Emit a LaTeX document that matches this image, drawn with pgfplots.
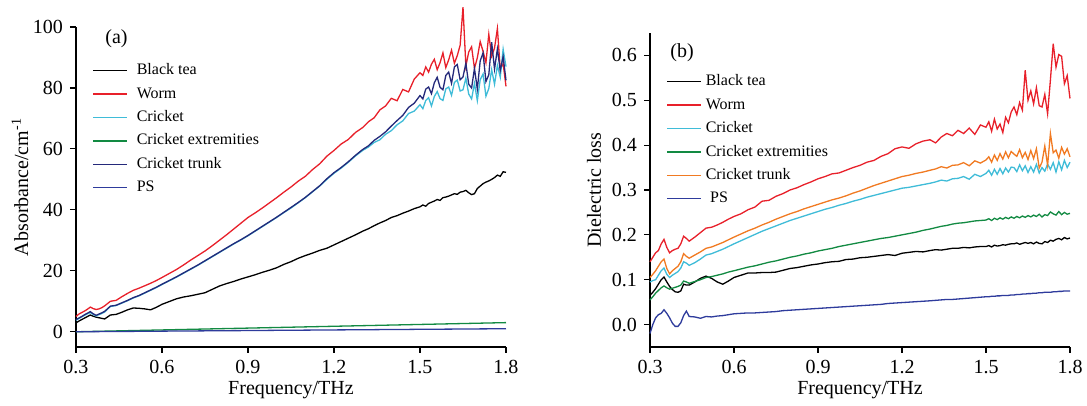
\documentclass[border=0pt]{standalone}
\usepackage{pgfplots}
\pgfplotsset{compat=1.18}
\usepackage{pgfplotstable}
\usepackage{fontspec}
\setmainfont{Liberation Serif}

\definecolor{cTea}{HTML}{000000}
\definecolor{cWorm}{HTML}{E8202A}
\definecolor{cCricket}{HTML}{3FBCD8}
\definecolor{cExt}{HTML}{128A42}
\definecolor{cTrunkA}{HTML}{24297A}
\definecolor{cTrunkB}{HTML}{F17A22}
\definecolor{cPS}{HTML}{2E3B9C}

% Panel (a): absorbance
\pgfplotstableread{
x tea worm cricket ext trunk ps
0.30 2.9 5.0 3.8 0.00 4.0 0.00
0.31 3.5 5.8 4.3 0.02 4.5 0.01
0.32 4.0 6.3 4.9 0.04 5.0 0.01
0.33 4.5 6.8 5.4 0.06 5.6 0.02
0.34 5.0 7.4 5.9 0.08 6.1 0.03
0.35 5.5 8.1 6.3 0.10 6.6 0.03
0.36 5.1 7.6 5.7 0.12 5.9 0.04
0.37 4.8 7.3 5.2 0.14 5.4 0.05
0.38 4.6 7.5 5.6 0.16 5.8 0.05
0.39 4.4 7.9 6.0 0.18 6.2 0.06
0.40 4.2 8.5 6.5 0.20 6.7 0.07
0.42 5.5 10.0 8.3 0.24 8.4 0.08
0.44 5.7 10.3 8.6 0.28 8.7 0.09
0.46 6.4 11.5 9.4 0.32 9.5 0.11
0.48 7.2 12.6 10.2 0.36 10.3 0.12
0.50 7.8 13.6 11.1 0.40 11.2 0.13
0.52 7.7 14.3 11.8 0.44 11.9 0.15
0.54 7.5 15.1 12.7 0.48 12.8 0.16
0.56 7.2 15.9 13.6 0.52 13.7 0.17
0.58 8.0 16.8 14.5 0.56 14.6 0.19
0.60 9.0 17.8 15.5 0.60 15.6 0.20
0.625 9.9 19.1 16.7 0.65 16.8 0.22
0.65 10.8 20.4 17.9 0.70 18.0 0.23
0.675 11.4 21.9 19.2 0.75 19.3 0.25
0.70 11.8 23.5 20.5 0.80 20.6 0.27
0.725 12.3 25.0 21.8 0.85 21.9 0.28
0.75 12.8 26.5 23.2 0.90 23.3 0.30
0.775 13.9 28.2 24.6 0.95 24.7 0.32
0.80 15.0 30.0 26.0 1.00 26.1 0.33
0.825 15.8 31.8 27.4 1.05 27.5 0.35
0.85 16.5 33.7 28.8 1.10 28.9 0.37
0.875 17.3 35.6 30.1 1.15 30.2 0.38
0.90 18.0 37.5 31.5 1.20 31.6 0.40
0.925 18.7 39.0 33.0 1.25 33.1 0.42
0.95 19.5 40.6 34.5 1.30 34.6 0.43
0.975 20.2 42.3 36.0 1.35 36.1 0.45
1.00 21.0 44.0 37.5 1.40 37.6 0.47
1.025 22.1 45.8 39.1 1.45 39.2 0.48
1.05 23.0 47.5 40.6 1.50 40.8 0.50
1.075 24.1 49.4 42.3 1.55 42.4 0.52
1.10 25.0 51.0 44.0 1.60 44.1 0.53
1.125 25.8 53.2 45.9 1.65 46.0 0.55
1.15 26.7 55.1 47.8 1.70 47.9 0.57
1.175 27.4 57.6 50.0 1.75 50.2 0.58
1.20 28.5 59.5 52.0 1.80 52.2 0.60
1.225 29.6 61.6 53.7 1.85 53.9 0.62
1.25 30.7 63.1 55.6 1.90 55.8 0.63
1.275 31.8 65.4 57.7 1.95 57.9 0.65
1.30 33.0 67.0 59.5 2.00 59.8 0.67
1.32 33.8 68.9 60.6 2.04 61.0 0.68
1.34 34.8 70.2 62.1 2.08 62.8 0.69
1.36 35.7 72.8 63.0 2.12 64.1 0.71
1.38 36.5 74.1 64.8 2.16 65.6 0.72
1.40 37.5 76.6 66.0 2.20 67.5 0.73
1.42 38.1 75.8 67.9 2.24 69.3 0.75
1.44 38.9 79.5 69.2 2.28 71.0 0.76
1.46 39.6 78.7 71.6 2.32 73.6 0.77
1.48 40.4 82.9 72.4 2.36 75.0 0.79
1.50 41.0 85.0 74.5 2.40 77.5 0.80
1.51 41.6 84.1 73.2 2.42 76.4 0.81
1.52 41.2 86.9 75.9 2.44 79.6 0.81
1.53 42.1 85.2 76.8 2.46 80.3 0.82
1.54 42.5 87.8 74.1 2.48 78.1 0.83
1.55 42.9 89.4 77.2 2.50 81.7 0.83
1.56 43.4 86.0 78.8 2.52 83.5 0.84
1.57 43.1 88.3 76.5 2.54 80.2 0.85
1.58 44.0 91.5 75.9 2.56 79.4 0.85
1.59 44.2 86.7 79.7 2.58 84.1 0.86
1.60 44.5 89.2 80.3 2.60 85.2 0.87
1.61 44.9 92.4 77.6 2.62 81.5 0.87
1.62 45.3 88.1 81.8 2.64 86.9 0.88
1.63 45.1 90.6 82.6 2.66 87.7 0.89
1.64 45.8 94.0 79.0 2.68 82.7 0.89
1.65 46.0 106.5 79.4 2.70 83.6 0.90
1.66 46.4 87.2 83.2 2.72 88.1 0.91
1.67 45.6 91.8 78.0 2.74 81.2 0.91
1.68 45.0 93.5 76.4 2.76 80.0 0.92
1.69 45.3 86.4 81.5 2.78 86.4 0.93
1.70 47.0 89.9 75.8 2.80 79.6 0.93
1.71 47.8 95.2 82.7 2.82 88.9 0.94
1.72 48.6 92.0 84.6 2.84 91.5 0.95
1.73 49.1 88.3 77.3 2.86 82.1 0.95
1.74 49.5 97.6 79.8 2.88 84.3 0.96
1.75 50.0 90.4 86.0 2.90 95.0 0.97
1.76 50.6 93.1 81.2 2.92 86.2 0.97
1.77 51.4 99.5 87.4 2.94 92.8 0.98
1.78 51.0 86.2 83.5 2.96 85.7 0.99
1.79 52.5 88.0 92.7 2.98 90.3 0.99
1.80 52.3 80.5 87.0 3.00 82.5 1.00
}\absorb

% Panel (b): dielectric loss
\pgfplotstableread{
x tea worm cricket ext trunk ps
0.30 0.065 0.140 0.095 0.055 0.105 -0.020
0.31 0.072 0.150 0.098 0.062 0.112 0.000
0.32 0.080 0.160 0.100 0.070 0.120 0.015
0.33 0.090 0.165 0.110 0.076 0.130 0.022
0.34 0.100 0.180 0.120 0.082 0.140 0.025
0.35 0.106 0.190 0.126 0.086 0.146 0.033
0.36 0.095 0.172 0.112 0.082 0.125 0.025
0.37 0.085 0.160 0.105 0.079 0.113 0.015
0.38 0.078 0.165 0.110 0.081 0.120 0.003
0.39 0.073 0.168 0.114 0.083 0.125 -0.004
0.40 0.072 0.170 0.118 0.085 0.130 -0.004
0.41 0.075 0.180 0.126 0.088 0.140 0.004
0.42 0.090 0.197 0.140 0.097 0.158 0.020
0.43 0.088 0.192 0.137 0.095 0.152 0.030
0.44 0.088 0.186 0.132 0.092 0.148 0.018
0.46 0.095 0.195 0.138 0.096 0.155 0.017
0.48 0.103 0.205 0.146 0.100 0.162 0.014
0.50 0.108 0.215 0.155 0.105 0.170 0.018
0.52 0.103 0.217 0.158 0.107 0.173 0.017
0.54 0.095 0.222 0.163 0.110 0.178 0.019
0.56 0.090 0.228 0.168 0.113 0.183 0.020
0.58 0.097 0.235 0.174 0.117 0.189 0.022
0.60 0.105 0.241 0.180 0.120 0.195 0.024
0.625 0.110 0.247 0.187 0.124 0.202 0.025
0.65 0.115 0.256 0.194 0.128 0.209 0.026
0.675 0.115 0.262 0.201 0.131 0.215 0.026
0.70 0.116 0.275 0.208 0.135 0.222 0.027
0.725 0.116 0.277 0.214 0.139 0.228 0.028
0.75 0.117 0.286 0.220 0.142 0.235 0.029
0.775 0.121 0.292 0.226 0.146 0.241 0.031
0.80 0.125 0.300 0.232 0.150 0.247 0.032
0.825 0.127 0.305 0.237 0.153 0.252 0.033
0.85 0.130 0.312 0.242 0.157 0.258 0.034
0.875 0.133 0.318 0.247 0.160 0.263 0.035
0.90 0.135 0.325 0.252 0.164 0.268 0.036
0.925 0.138 0.330 0.257 0.167 0.273 0.037
0.95 0.140 0.336 0.261 0.170 0.278 0.038
0.975 0.141 0.338 0.266 0.174 0.282 0.039
1.00 0.145 0.344 0.270 0.177 0.287 0.040
1.025 0.146 0.350 0.275 0.180 0.293 0.041
1.05 0.149 0.355 0.279 0.183 0.298 0.042
1.075 0.150 0.362 0.284 0.186 0.304 0.043
1.10 0.152 0.366 0.288 0.189 0.310 0.044
1.125 0.154 0.375 0.292 0.192 0.315 0.045
1.15 0.156 0.381 0.296 0.194 0.320 0.047
1.175 0.154 0.392 0.300 0.197 0.325 0.048
1.20 0.159 0.396 0.304 0.200 0.330 0.049
1.225 0.161 0.393 0.306 0.203 0.333 0.050
1.25 0.163 0.403 0.309 0.206 0.337 0.051
1.275 0.162 0.409 0.312 0.210 0.340 0.052
1.30 0.165 0.412 0.315 0.213 0.344 0.053
1.32 0.167 0.405 0.318 0.216 0.347 0.054
1.34 0.166 0.418 0.322 0.219 0.352 0.055
1.36 0.168 0.426 0.320 0.221 0.349 0.056
1.38 0.170 0.421 0.325 0.224 0.355 0.056
1.40 0.170 0.433 0.326 0.226 0.356 0.057
1.42 0.172 0.426 0.330 0.227 0.361 0.058
1.44 0.171 0.438 0.324 0.229 0.354 0.059
1.46 0.173 0.424 0.335 0.231 0.365 0.060
1.48 0.174 0.445 0.330 0.232 0.360 0.061
1.50 0.174 0.440 0.337 0.233 0.367 0.062
1.51 0.176 0.452 0.344 0.236 0.374 0.062
1.52 0.173 0.431 0.333 0.232 0.362 0.063
1.53 0.177 0.458 0.346 0.237 0.378 0.063
1.54 0.175 0.436 0.335 0.234 0.366 0.064
1.55 0.176 0.447 0.348 0.238 0.381 0.064
1.56 0.178 0.428 0.336 0.235 0.369 0.065
1.57 0.177 0.462 0.349 0.239 0.385 0.065
1.58 0.179 0.450 0.340 0.236 0.372 0.065
1.59 0.180 0.474 0.351 0.240 0.386 0.066
1.60 0.180 0.485 0.350 0.237 0.380 0.066
1.61 0.182 0.468 0.341 0.241 0.375 0.067
1.62 0.179 0.495 0.356 0.238 0.390 0.067
1.63 0.181 0.478 0.343 0.242 0.372 0.068
1.64 0.183 0.567 0.354 0.239 0.384 0.068
1.65 0.181 0.500 0.339 0.243 0.368 0.069
1.66 0.183 0.521 0.352 0.240 0.388 0.069
1.67 0.180 0.492 0.340 0.244 0.370 0.070
1.68 0.184 0.528 0.357 0.241 0.392 0.070
1.69 0.181 0.488 0.338 0.246 0.349 0.071
1.70 0.180 0.485 0.350 0.240 0.362 0.071
1.71 0.185 0.513 0.342 0.245 0.398 0.072
1.72 0.183 0.470 0.358 0.243 0.355 0.072
1.73 0.188 0.545 0.346 0.251 0.426 0.072
1.74 0.186 0.626 0.361 0.247 0.383 0.073
1.75 0.190 0.574 0.340 0.244 0.389 0.073
1.76 0.192 0.602 0.363 0.252 0.371 0.074
1.77 0.189 0.598 0.345 0.245 0.395 0.074
1.78 0.194 0.537 0.366 0.250 0.380 0.075
1.79 0.191 0.555 0.350 0.246 0.392 0.075
1.80 0.193 0.504 0.362 0.248 0.374 0.075
}\dloss

\pgfplotsset{
  panel/.style={
    scale only axis,
    clip=false,
    axis x line*=bottom,
    axis y line*=left,
    xmin=0.3, xmax=1.8,
    xtick={0.3,0.6,0.9,1.2,1.5,1.8},
    tick align=outside,
    major tick length=3pt,
    tick style={black, line width=0.6pt},
    axis line style={black, line width=0.6pt},
    /pgf/number format/assume math mode=true,
    ticklabel style={font=\fontsize{10}{12}\selectfont},
    label style={font=\fontsize{10}{12}\selectfont},
    xticklabel style={/pgf/number format/.cd, fixed, fixed zerofill, precision=1},
    xlabel={Frequency/THz},
    xlabel style={at={([yshift=-21.5pt]axis description cs:0.5,0)}, anchor=center},
    ylabel style={at={([xshift=-28pt]axis description cs:0,0.5)}, anchor=center},
    legend cell align=left,
    legend image code/.code={\draw[##1, line width=0.7pt] (0pt,1.4pt) -- (17pt,1.4pt);},
    legend style={draw=none, fill=none, anchor=north west, inner sep=0pt,
      row sep=0pt, font=\fontsize{8}{9.6}\selectfont,
      nodes={inner sep=0pt, text height=6.5pt, text depth=5.2pt}},
    every axis plot/.append style={line width=0.65pt},
  }
}

\begin{document}
\begin{tikzpicture}
\path[use as bounding box, fill=white] (-38pt,-29.5pt) rectangle (505.5pt,173.5pt);

\begin{axis}[panel,
  at={(0pt,0pt)}, anchor=south west,
  width=215pt, height=160pt,
  ymin=-5, ymax=100,
  ytick={0,20,40,60,80,100},
  ylabel={Absorbance/cm\textsuperscript{-1}},
  legend style={at={(axis description cs:0.0372,0.8925)},
    /tikz/every odd column/.append style={column sep=4.5pt}},
]
\addplot[cTea] table[x=x, y=tea] {\absorb};
\addlegendentry{Black tea}
\addplot[cWorm] table[x=x, y=worm] {\absorb};
\addlegendentry{Worm}
\addplot[cCricket] table[x=x, y=cricket] {\absorb};
\addlegendentry{Cricket}
\addplot[cExt] table[x=x, y=ext] {\absorb};
\addlegendentry{Cricket extremities}
\addplot[cTrunkA] table[x=x, y=trunk] {\absorb};
\addlegendentry{Cricket trunk}
\addplot[cPS] table[x=x, y=ps] {\absorb};
\addlegendentry{PS}
\node[anchor=west, font=\fontsize{10}{12}\selectfont, inner sep=0pt] at (axis description cs:0.0674,0.9625) {(a)};
\end{axis}

\begin{axis}[panel,
  at={(287pt,0pt)}, anchor=south west,
  width=210pt, height=157pt,
  ymin=-0.05, ymax=0.65,
  ytick={0,0.1,0.2,0.3,0.4,0.5,0.6},
  yticklabel style={/pgf/number format/.cd, fixed, fixed zerofill, precision=1},
  ylabel={Dielectric loss},
  legend style={at={(axis description cs:0.0381,0.8745)},
    /tikz/every odd column/.append style={column sep=2pt}},
]
\addplot[cTea] table[x=x, y=tea] {\dloss};
\addlegendentry{Black tea}
\addplot[cWorm] table[x=x, y=worm] {\dloss};
\addlegendentry{Worm}
\addplot[cCricket] table[x=x, y=cricket] {\dloss};
\addlegendentry{Cricket}
\addplot[cExt] table[x=x, y=ext] {\dloss};
\addlegendentry{Cricket extremities}
\addplot[cTrunkB] table[x=x, y=trunk] {\dloss};
\addlegendentry{Cricket trunk}
\addplot[cPS] table[x=x, y=ps] {\dloss};
\addlegendentry{\hspace{2.2pt}PS}
\node[anchor=west, font=\fontsize{10}{12}\selectfont, inner sep=0pt] at (axis description cs:0.0476,0.938) {(b)};
\end{axis}
\end{tikzpicture}
\end{document}
